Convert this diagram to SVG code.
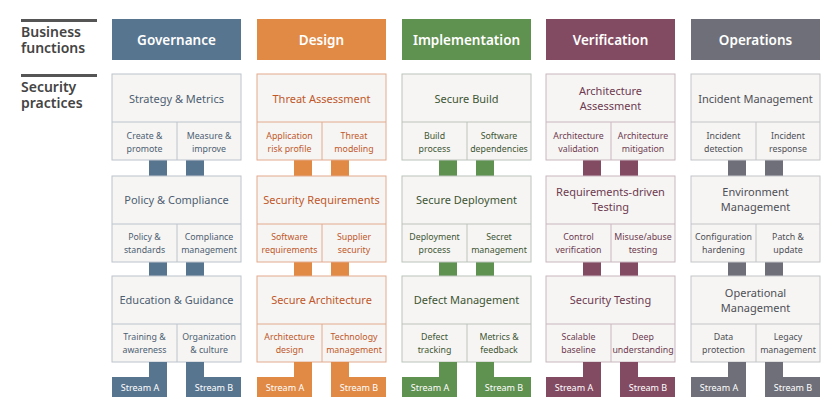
<svg xmlns="http://www.w3.org/2000/svg" width="833" height="411" viewBox="0 0 833 411">
<style>
text{font-family:"Noto Sans","Open Sans",sans-serif}
.hd{font-size:13.5px;font-weight:600;fill:#fff;text-anchor:middle}
.lbl{font-size:14px;font-weight:600;fill:#444}
.pt{font-size:11px;text-anchor:middle}
.st{font-size:8.8px;text-anchor:middle}
.sb{font-size:9px;fill:#fff;text-anchor:middle}
.box{fill:#f6f5f3;stroke-width:1}
</style>
<rect width="833" height="411" fill="#fff"/>
<g id="labels">
<rect x="21" y="19" width="76" height="3" fill="#555"/>
<text class="lbl" x="21" y="37">Business</text>
<text class="lbl" x="21" y="53">functions</text>
<rect x="21" y="74" width="76" height="3" fill="#555"/>
<text class="lbl" x="21" y="92">Security</text>
<text class="lbl" x="21" y="108">practices</text>
</g>
<g id="connectors">
<g fill="#58758f"><rect x="149" y="160" width="18" height="16"/><rect x="186" y="160" width="18" height="16"/><rect x="149" y="262" width="18" height="14"/><rect x="186" y="262" width="18" height="14"/></g>
<g fill="#e08a45"><rect x="294" y="160" width="18" height="16"/><rect x="331" y="160" width="18" height="16"/><rect x="294" y="262" width="18" height="14"/><rect x="331" y="262" width="18" height="14"/></g>
<g fill="#5f9150"><rect x="439" y="160" width="18" height="16"/><rect x="476" y="160" width="18" height="16"/><rect x="439" y="262" width="18" height="14"/><rect x="476" y="262" width="18" height="14"/></g>
<g fill="#834b62"><rect x="583" y="160" width="18" height="16"/><rect x="620" y="160" width="18" height="16"/><rect x="583" y="262" width="18" height="14"/><rect x="620" y="262" width="18" height="14"/></g>
<g fill="#6e6f78"><rect x="728" y="160" width="18" height="16"/><rect x="765" y="160" width="18" height="16"/><rect x="728" y="262" width="18" height="14"/><rect x="765" y="262" width="18" height="14"/></g>
</g>
<!-- Governance -->
<g id="governance" fill="#4d5e72">
<rect x="112" y="19" width="129" height="41" fill="#58758f"/><text class="hd" x="176.5" y="45">Governance</text>
<g stroke="#bcc3cc" class="box"><rect x="112" y="74" width="129" height="86"/><line x1="112" y1="122" x2="241" y2="122"/><line x1="177" y1="122" x2="177" y2="160"/>
<rect x="112" y="176" width="129" height="86"/><line x1="112" y1="224" x2="241" y2="224"/><line x1="177" y1="224" x2="177" y2="262"/>
<rect x="112" y="276" width="129" height="86"/><line x1="112" y1="324" x2="241" y2="324"/><line x1="177" y1="324" x2="177" y2="362"/></g>
<text class="pt" x="176.5" y="103">Strategy &amp; Metrics</text>
<text class="st" x="144.5" y="139">Create &amp;</text><text class="st" x="144.5" y="152">promote</text>
<text class="st" x="209" y="139">Measure &amp;</text><text class="st" x="209" y="152">improve</text>
<text class="pt" x="176.5" y="204">Policy &amp; Compliance</text>
<text class="st" x="144.5" y="240">Policy &amp;</text><text class="st" x="144.5" y="253">standards</text>
<text class="st" x="209" y="240">Compliance</text><text class="st" x="209" y="253">management</text>
<text class="pt" x="176.5" y="304">Education &amp; Guidance</text>
<text class="st" x="144.5" y="340">Training &amp;</text><text class="st" x="144.5" y="353">awareness</text>
<text class="st" x="209" y="340">Organization</text><text class="st" x="209" y="353">&amp; culture</text>
<g fill="#58758f"><rect x="149" y="362" width="18" height="16"/><rect x="112" y="377" width="55" height="20"/><rect x="186" y="362" width="18" height="16"/><rect x="186" y="377" width="55" height="20"/></g>
<text class="sb" x="140" y="391">Stream A</text><text class="sb" x="214" y="391">Stream B</text>
</g>
<!-- Design -->
<g id="design" fill="#c0582a">
<rect x="257" y="19" width="129" height="41" fill="#e08a45"/><text class="hd" x="321.5" y="45">Design</text>
<g stroke="#e3aa8e" class="box"><rect x="257" y="74" width="129" height="86"/><line x1="257" y1="122" x2="386" y2="122"/><line x1="322" y1="122" x2="322" y2="160"/>
<rect x="257" y="176" width="129" height="86"/><line x1="257" y1="224" x2="386" y2="224"/><line x1="322" y1="224" x2="322" y2="262"/>
<rect x="257" y="276" width="129" height="86"/><line x1="257" y1="324" x2="386" y2="324"/><line x1="322" y1="324" x2="322" y2="362"/></g>
<text class="pt" x="321.5" y="103">Threat Assessment</text>
<text class="st" x="289.5" y="139">Application</text><text class="st" x="289.5" y="152">risk profile</text>
<text class="st" x="354" y="139">Threat</text><text class="st" x="354" y="152">modeling</text>
<text class="pt" x="321.5" y="204">Security Requirements</text>
<text class="st" x="289.5" y="240">Software</text><text class="st" x="289.5" y="253">requirements</text>
<text class="st" x="354" y="240">Supplier</text><text class="st" x="354" y="253">security</text>
<text class="pt" x="321.5" y="304">Secure Architecture</text>
<text class="st" x="289.5" y="340">Architecture</text><text class="st" x="289.5" y="353">design</text>
<text class="st" x="354" y="340">Technology</text><text class="st" x="354" y="353">management</text>
<g fill="#e08a45"><rect x="294" y="362" width="18" height="16"/><rect x="257" y="377" width="55" height="20"/><rect x="331" y="362" width="18" height="16"/><rect x="331" y="377" width="55" height="20"/></g>
<text class="sb" x="285" y="391">Stream A</text><text class="sb" x="359" y="391">Stream B</text>
</g>
<!-- Implementation -->
<g id="implementation" fill="#3e5634">
<rect x="402" y="19" width="129" height="41" fill="#5f9150"/><text class="hd" x="466.5" y="45">Implementation</text>
<g stroke="#bcc3bb" class="box"><rect x="402" y="74" width="129" height="86"/><line x1="402" y1="122" x2="531" y2="122"/><line x1="467" y1="122" x2="467" y2="160"/>
<rect x="402" y="176" width="129" height="86"/><line x1="402" y1="224" x2="531" y2="224"/><line x1="467" y1="224" x2="467" y2="262"/>
<rect x="402" y="276" width="129" height="86"/><line x1="402" y1="324" x2="531" y2="324"/><line x1="467" y1="324" x2="467" y2="362"/></g>
<text class="pt" x="466.5" y="103">Secure Build</text>
<text class="st" x="434.5" y="139">Build</text><text class="st" x="434.5" y="152">process</text>
<text class="st" x="499" y="139">Software</text><text class="st" x="499" y="152">dependencies</text>
<text class="pt" x="466.5" y="204">Secure Deployment</text>
<text class="st" x="434.5" y="240">Deployment</text><text class="st" x="434.5" y="253">process</text>
<text class="st" x="499" y="240">Secret</text><text class="st" x="499" y="253">management</text>
<text class="pt" x="466.5" y="304">Defect Management</text>
<text class="st" x="434.5" y="340">Defect</text><text class="st" x="434.5" y="353">tracking</text>
<text class="st" x="499" y="340">Metrics &amp;</text><text class="st" x="499" y="353">feedback</text>
<g fill="#5f9150"><rect x="439" y="362" width="18" height="16"/><rect x="402" y="377" width="55" height="20"/><rect x="476" y="362" width="18" height="16"/><rect x="476" y="377" width="55" height="20"/></g>
<text class="sb" x="430" y="391">Stream A</text><text class="sb" x="504" y="391">Stream B</text>
</g>
<!-- Verification -->
<g id="verification" fill="#6e3a50">
<rect x="546" y="19" width="129" height="41" fill="#834b62"/><text class="hd" x="610.5" y="45">Verification</text>
<g stroke="#c9b7bf" class="box"><rect x="546" y="74" width="129" height="86"/><line x1="546" y1="122" x2="675" y2="122"/><line x1="611" y1="122" x2="611" y2="160"/>
<rect x="546" y="176" width="129" height="86"/><line x1="546" y1="224" x2="675" y2="224"/><line x1="611" y1="224" x2="611" y2="262"/>
<rect x="546" y="276" width="129" height="86"/><line x1="546" y1="324" x2="675" y2="324"/><line x1="611" y1="324" x2="611" y2="362"/></g>
<text class="pt" x="610.5" y="95">Architecture</text><text class="pt" x="610.5" y="110">Assessment</text>
<text class="st" x="578.5" y="139">Architecture</text><text class="st" x="578.5" y="152">validation</text>
<text class="st" x="643" y="139">Architecture</text><text class="st" x="643" y="152">mitigation</text>
<text class="pt" x="610.5" y="196">Requirements-driven</text><text class="pt" x="610.5" y="211">Testing</text>
<text class="st" x="578.5" y="240">Control</text><text class="st" x="578.5" y="253">verification</text>
<text class="st" x="643" y="240">Misuse/abuse</text><text class="st" x="643" y="253">testing</text>
<text class="pt" x="610.5" y="304">Security Testing</text>
<text class="st" x="578.5" y="340">Scalable</text><text class="st" x="578.5" y="353">baseline</text>
<text class="st" x="643" y="340">Deep</text><text class="st" x="643" y="353">understanding</text>
<g fill="#834b62"><rect x="583" y="362" width="18" height="16"/><rect x="546" y="377" width="55" height="20"/><rect x="620" y="362" width="18" height="16"/><rect x="620" y="377" width="55" height="20"/></g>
<text class="sb" x="574" y="391">Stream A</text><text class="sb" x="648" y="391">Stream B</text>
</g>
<!-- Operations -->
<g id="operations" fill="#4e4f56">
<rect x="691" y="19" width="129" height="41" fill="#6e6f78"/><text class="hd" x="755.5" y="45">Operations</text>
<g stroke="#c4c5c9" class="box"><rect x="691" y="74" width="129" height="86"/><line x1="691" y1="122" x2="820" y2="122"/><line x1="756" y1="122" x2="756" y2="160"/>
<rect x="691" y="176" width="129" height="86"/><line x1="691" y1="224" x2="820" y2="224"/><line x1="756" y1="224" x2="756" y2="262"/>
<rect x="691" y="276" width="129" height="86"/><line x1="691" y1="324" x2="820" y2="324"/><line x1="756" y1="324" x2="756" y2="362"/></g>
<text class="pt" x="755.5" y="103">Incident Management</text>
<text class="st" x="723.5" y="139">Incident</text><text class="st" x="723.5" y="152">detection</text>
<text class="st" x="788" y="139">Incident</text><text class="st" x="788" y="152">response</text>
<text class="pt" x="755.5" y="196">Environment</text><text class="pt" x="755.5" y="211">Management</text>
<text class="st" x="723.5" y="240">Configuration</text><text class="st" x="723.5" y="253">hardening</text>
<text class="st" x="788" y="240">Patch &amp;</text><text class="st" x="788" y="253">update</text>
<text class="pt" x="755.5" y="297">Operational</text><text class="pt" x="755.5" y="312">Management</text>
<text class="st" x="723.5" y="340">Data</text><text class="st" x="723.5" y="353">protection</text>
<text class="st" x="788" y="340">Legacy</text><text class="st" x="788" y="353">management</text>
<g fill="#6e6f78"><rect x="728" y="362" width="18" height="16"/><rect x="691" y="377" width="55" height="20"/><rect x="765" y="362" width="18" height="16"/><rect x="765" y="377" width="55" height="20"/></g>
<text class="sb" x="719" y="391">Stream A</text><text class="sb" x="793" y="391">Stream B</text>
</g>
</svg>
